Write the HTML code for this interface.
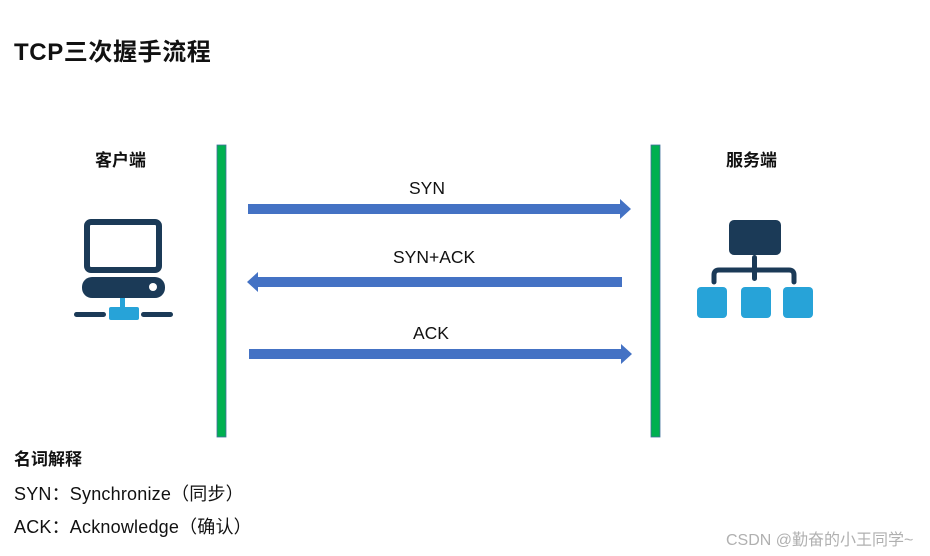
<!DOCTYPE html>
<html><head><meta charset="utf-8"><style>
body{margin:0;width:930px;height:556px;background:#fff;position:relative;overflow:hidden;font-family:"Liberation Sans","Noto Sans CJK SC",sans-serif;color:#111}
.t{position:absolute;white-space:nowrap;line-height:1}
</style></head><body>
<svg width="930" height="556" style="position:absolute;left:0;top:0">
<rect x="217" y="145" width="9" height="292" fill="#00b050" stroke="#41719c" stroke-width="0.8"/>
<rect x="651" y="145" width="9" height="292" fill="#00b050" stroke="#41719c" stroke-width="0.8"/>
<polygon points="248,204 620,204 620,199 631,209 620,219 620,214 248,214" fill="#4472c4"/>
<polygon points="622,277 258,277 258,272 247,282 258,292 258,287 622,287" fill="#4472c4"/>
<polygon points="249,349 621,349 621,344 632,354 621,364 621,359 249,359" fill="#4472c4"/>
<rect x="87" y="222" width="72" height="48" rx="4" fill="none" stroke="#1b3a57" stroke-width="6"/>
<rect x="82" y="277" width="83" height="21" rx="10" fill="#1b3a57"/>
<circle cx="153" cy="287" r="4" fill="#fff"/>
<rect x="120" y="298" width="5" height="10" fill="#27a3d8"/>
<rect x="109" y="307" width="30" height="13" rx="2" fill="#27a3d8"/>
<rect x="74" y="312" width="32" height="5" rx="2.5" fill="#1b3a57"/>
<rect x="141" y="312" width="32" height="5" rx="2.5" fill="#1b3a57"/>
<rect x="729" y="220" width="52" height="35" rx="5" fill="#1b3a57"/>
<path d="M714,282 V275 Q714,270 719,270 H789 Q794,270 794,275 V282" fill="none" stroke="#1b3a57" stroke-width="5" stroke-linecap="round"/>
<rect x="752" y="255" width="5" height="26" rx="2.5" fill="#1b3a57"/>
<rect x="697" y="287" width="30" height="31" rx="4" fill="#27a3d8"/>
<rect x="741" y="287" width="30" height="31" rx="4" fill="#27a3d8"/>
<rect x="783" y="287" width="30" height="31" rx="4" fill="#27a3d8"/>
</svg>
<div class="t" style="left:14px;top:41px;font-size:24px;font-weight:bold;letter-spacing:0.6px">TCP三次握手流程</div>
<div class="t" style="left:95px;top:152px;font-size:17px;font-weight:bold">客户端</div>
<div class="t" style="left:726px;top:152px;font-size:17px;font-weight:bold">服务端</div>
<div class="t" style="left:409px;top:180px;font-size:17.5px">SYN</div>
<div class="t" style="left:393px;top:249px;font-size:17.5px">SYN+ACK</div>
<div class="t" style="left:413px;top:325px;font-size:17.5px">ACK</div>
<div class="t" style="left:14px;top:451px;font-size:17px;font-weight:bold">名词解释</div>
<div class="t" style="left:14px;top:485px;font-size:18px;letter-spacing:0.2px">SYN：Synchronize（同步）</div>
<div class="t" style="left:14px;top:518px;font-size:18px;letter-spacing:0.2px">ACK：Acknowledge（确认）</div>
<div class="t" style="left:726px;top:533px;font-size:16px;color:#b0b0b0">CSDN @勤奋的小王同学~</div>
</body></html>
